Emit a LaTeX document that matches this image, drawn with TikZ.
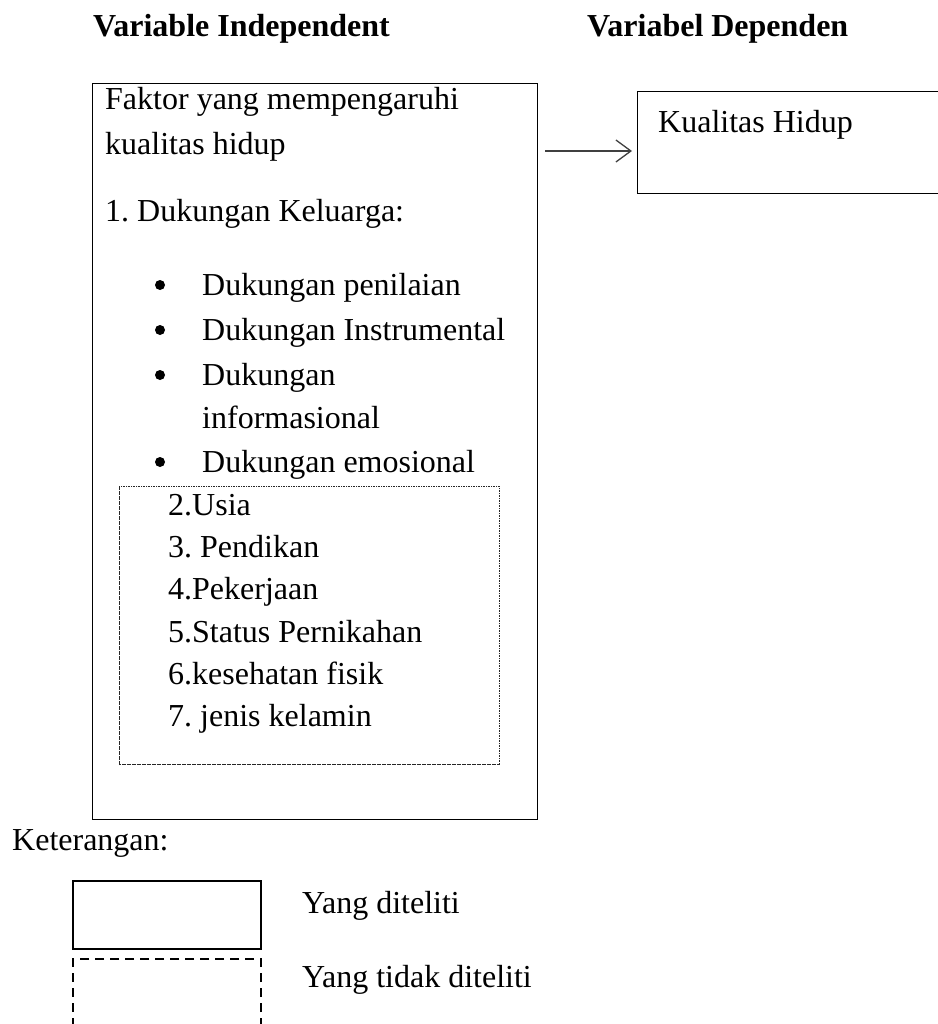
\documentclass[tikz,border=0pt]{standalone}
\usepackage{fontspec}
\setmainfont{Liberation Serif}
\usetikzlibrary{arrows.meta}
\frenchspacing
\begin{document}
\begin{tikzpicture}[x=1pt,y=-1pt,
  txt/.style={anchor=base west,inner sep=0pt,font=\fontsize{32}{38}\selectfont},
  ttl/.style={txt,font=\fontsize{32}{38}\selectfont\bfseries},
  solidbox/.style={draw,line width=1.4pt,inner sep=0pt,anchor=north west},
  dotbox/.style={draw=black!85,line width=0.9pt,dash pattern=on 1.6pt off 0.9pt,inner sep=0pt,anchor=north west},
  legsolid/.style={draw,line width=2pt,inner sep=0pt,anchor=north west},
  legdash/.style={draw,line width=2pt,dash pattern=on 9pt off 6pt,inner sep=0pt,anchor=north west},
  arr/.style={draw=black!75,line width=1.3pt,-{Straight Barb[length=15pt,width=22pt,line width=1.3pt]}},
  bul/.style={circle,fill,inner sep=0pt,minimum size=10pt}
]
\frenchspacing
\useasboundingbox (0,0) rectangle (937,1024);
% titles
\node[ttl] (t1) at (93,37) {Variable Independent};
\node[ttl] (t2) at (587,37) {Variabel Dependen};
% main box
\node[solidbox,minimum width=445pt,minimum height=736pt] (main) at (92,83) {};
\node[txt] (f1) at (105,110) {Faktor yang mempengaruhi};
\node[txt] (f2) at (105,155) {kualitas hidup};
\node[txt] (f3) at (105,222) {1.\ Dukungan Keluarga:};
\node[bul] (b1) at (160,285) {};
\node[txt] (d1) at (202,295) {Dukungan penilaian};
\node[bul] (b2) at (160,330) {};
\node[txt] (d2) at (202,340) {Dukungan Instrumental};
\node[bul] (b3) at (160,375) {};
\node[txt] (d3) at (202,385) {Dukungan};
\node[txt] (d3b) at (202,428) {informasional};
\node[bul] (b4) at (160,462) {};
\node[txt] (d4) at (202,472) {Dukungan emosional};
% dotted box
\node[dotbox,minimum width=380pt,minimum height=278pt] (other) at (119,486) {};
\node[txt] (o2) at (168,515) {2.Usia};
\node[txt] (o3) at (168,557) {3.\ Pendikan};
\node[txt] (o4) at (168,599) {4.Pekerjaan};
\node[txt] (o5) at (168,642) {5.Status Pernikahan};
\node[txt] (o6) at (168,684) {6.kesehatan fisik};
\node[txt] (o7) at (168,726) {7.\ jenis kelamin};
% dependent box
\node[solidbox,minimum width=312pt,minimum height=102pt] (kh) at (637,91) {};
\node[txt] (khl) at (658,133) {Kualitas Hidup};
% arrow
\coordinate (a1) at (545,151);
\draw[arr,shorten >=5pt] (a1) -- (a1 -| kh.west);
% legend
\node[txt] (ket) at (12,850) {Keterangan:};
\node[legsolid,minimum width=188pt,minimum height=68pt] (ls) at (72,880) {};
\node[txt] (lst) at (302,913) {Yang diteliti};
\node[legdash,minimum width=188pt,minimum height=90pt] (ld) at (72,958) {};
\node[txt] (ldt) at (302,987) {Yang tidak diteliti};
\end{tikzpicture}
\end{document}
